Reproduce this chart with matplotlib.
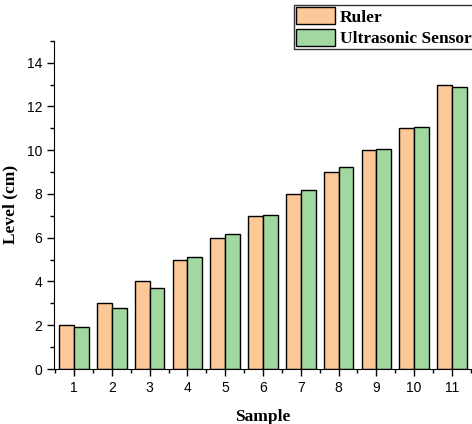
import numpy as np
import matplotlib.pyplot as plt
from matplotlib.ticker import MultipleLocator

# measured water level for each sample
samples = [1, 2, 3, 4, 5, 6, 7, 8, 9, 10, 11]
ruler = [2, 3, 4, 5, 6, 7, 8, 9, 10, 11, 13]
ultrasonic = [1.9, 2.78, 3.68, 5.11, 6.15, 7.05, 8.19, 9.22, 10.07, 11.05, 12.88]

ruler_color = '#FDC897'
sensor_color = '#A0D8A0'
width = 0.39

fig = plt.figure(figsize=(4.72, 4.24), dpi=100)
ax = fig.add_axes([0.1144, 0.1297, 0.8856, 0.7741])

x = np.array(samples)
ax.bar(x - width/2, ruler, width, color=ruler_color, edgecolor='black', linewidth=1.0, label='Ruler')
ax.bar(x + width/2, ultrasonic, width, color=sensor_color, edgecolor='black', linewidth=1.0, label='Ultrasonic Sensor')

ax.set_xlim(0.47, 11.53)
ax.set_ylim(0, 15)
ax.set_xticks(samples)
ax.xaxis.set_minor_locator(MultipleLocator(0.5))
ax.yaxis.set_major_locator(MultipleLocator(2))
ax.yaxis.set_minor_locator(MultipleLocator(1))
ax.tick_params(which='major', direction='out', length=5, width=1, labelsize=10)
ax.tick_params(which='minor', direction='out', length=3, width=1)
for lab in ax.get_xticklabels() + ax.get_yticklabels():
    lab.set_fontfamily('Liberation Sans')

ax.spines['top'].set_visible(False)
ax.spines['right'].set_visible(False)

label_font = {'family': 'Liberation Serif', 'weight': 'bold', 'size': 12.5}
ax.set_xlabel('Sample', fontdict=label_font, labelpad=10)
ax.set_ylabel('Level (cm)', fontdict=label_font, labelpad=6)

leg = fig.legend(loc='upper right', bbox_to_anchor=(1.003, 0.988),
                 prop={'family': 'Liberation Serif', 'weight': 'bold', 'size': 12.5},
                 frameon=True, fancybox=False, edgecolor='black',
                 handlelength=2.25, handleheight=1.15, handletextpad=0.25,
                 borderpad=0.12, labelspacing=0.18, borderaxespad=0)
leg.get_frame().set_linewidth(1.0)

fig.savefig('out.png', dpi=100)
